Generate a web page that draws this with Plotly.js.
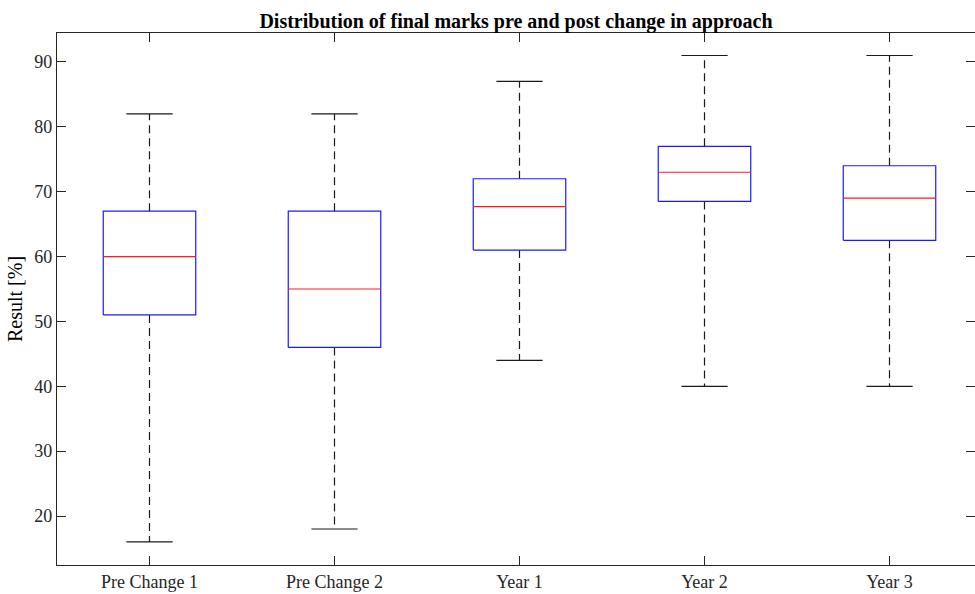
<!DOCTYPE html>
<html>
<head>
<meta charset="utf-8">
<script src="https://cdn.plot.ly/plotly-3.0.1.min.js"></script>
<style>html,body{margin:0;padding:0;background:#fff;overflow:hidden}</style>
</head>
<body>
<div id="chart" style="width:975px;height:594px"></div>
<script>
var categories = ["Pre Change 1", "Pre Change 2", "Year 1", "Year 2", "Year 3"];
var upperWhisker = [82, 82, 87, 91, 91];
var q3 = [67, 67, 72, 77, 74];
var median = [60, 55, 67.7, 73, 69];
var q1 = [51, 46, 61, 68.5, 62.5];
var lowerWhisker = [16, 18, 44, 40, 40];
var yTicks = [20, 30, 40, 50, 60, 70, 80, 90];

var positions = categories.map(function (c, i) { return i + 1; });
var halfBox = 0.25, halfCap = 0.125;

var wx = [], wy = [], cx = [], cy = [], bx = [], by = [], mx = [], my = [];
positions.forEach(function (p, i) {
  wx.push(p, p, null, p, p, null);
  wy.push(q3[i], upperWhisker[i], null, q1[i], lowerWhisker[i], null);
  cx.push(p - halfCap, p + halfCap, null, p - halfCap, p + halfCap, null);
  cy.push(upperWhisker[i], upperWhisker[i], null, lowerWhisker[i], lowerWhisker[i], null);
  bx.push(p - halfBox, p + halfBox, p + halfBox, p - halfBox, p - halfBox, null);
  by.push(q1[i], q1[i], q3[i], q3[i], q1[i], null);
  mx.push(p - halfBox, p + halfBox, null);
  my.push(median[i], median[i], null);
});

var traces = [
  {x: wx, y: wy, mode: 'lines', line: {color: '#1a1a1a', width: 1.2, dash: '8px,5px'}, hoverinfo: 'skip'},
  {x: cx, y: cy, mode: 'lines', line: {color: '#1a1a1a', width: 1.2}, hoverinfo: 'skip'},
  {x: bx, y: by, mode: 'lines', line: {color: '#1a1aff', width: 1.2}, hoverinfo: 'skip'},
  {x: mx, y: my, mode: 'lines', line: {color: '#ff1a1a', width: 1.2}, hoverinfo: 'skip'}
];

var axisCol = '#262626';
var serif = '"Liberation Serif", "Times New Roman", serif';
var layout = {
  width: 975, height: 594,
  margin: {l: 57, r: 0, t: 33, b: 29},
  paper_bgcolor: '#ffffff', plot_bgcolor: '#ffffff',
  showlegend: false,
  font: {family: serif, size: 18, color: axisCol},
  title: {text: '<b>Distribution of final marks pre and post change in approach</b>',
          x: 0.5, xref: 'paper', y: 1, yref: 'paper', yanchor: 'bottom', pad: {b: 5},
          font: {family: serif, size: 20, color: '#000000'}},
  xaxis: {
    range: [0.5, 0.5 + 918 / 185], tickmode: 'array', tickvals: positions, ticktext: categories,
    showgrid: false, zeroline: false, showline: true, mirror: 'ticks', linecolor: axisCol, linewidth: 1.2,
    ticks: 'inside', ticklen: 9, tickcolor: axisCol, tickwidth: 1, fixedrange: true,
    tickfont: {size: 18, color: axisCol}
  },
  yaxis: {
    range: [12.45, 94.47], tickmode: 'array', tickvals: yTicks,
    showgrid: false, zeroline: false, showline: true, mirror: 'ticks', linecolor: axisCol, linewidth: 1.2,
    ticks: 'inside', ticklen: 9, tickcolor: axisCol, tickwidth: 1, fixedrange: true,
    tickfont: {size: 18, color: axisCol},
    title: {text: 'Result [%]', standoff: 6, font: {size: 20, color: '#000000'}}
  }
};

Plotly.newPlot('chart', traces, layout, {staticPlot: true, displayModeBar: false});
</script>
</body>
</html>
